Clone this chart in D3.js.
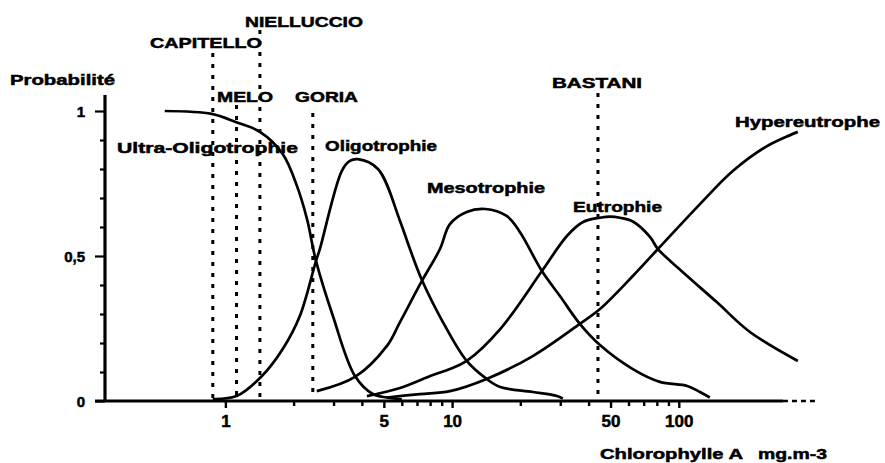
<!DOCTYPE html>
<html>
<head>
<meta charset="utf-8">
<script src="https://cdn.jsdelivr.net/npm/d3@7"></script>
<style>
  body { margin: 0; background: #fff; }
  text { font-family: "Liberation Sans", Arial, sans-serif; font-weight: bold; fill: #000; stroke: #000; stroke-width: 0.5px; }
</style>
</head>
<body>
<svg id="chart"></svg>
<script>
// Data: [chlorophylle A (mg.m-3), probabilite]
const ultraOligo = [[0.54, 1.0], [0.87, 0.99], [1.11, 0.962], [1.42, 0.928], [1.79, 0.852], [2.07, 0.741],
  [2.29, 0.628], [2.51, 0.483], [2.98, 0.293], [3.73, 0.086], [4.47, 0.024], [5.16, 0.012], [6.0, 0.006]];
const oligo = [[0.88, 0.007], [1.12, 0.017], [1.45, 0.086], [1.79, 0.179], [2.13, 0.293], [2.51, 0.483],
  [2.61, 0.524], [3.26, 0.793], [3.54, 0.828], [3.84, 0.834], [4.71, 0.8], [5.89, 0.621], [6.52, 0.524],
  [7.36, 0.417], [9.11, 0.272], [11.6, 0.138], [14.2, 0.076], [16.3, 0.048], [22.7, 0.031], [29.0, 0.017], [30.8, 0.008]];
const meso = [[2.53, 0.034], [3.73, 0.083], [5.16, 0.19], [5.89, 0.272], [7.36, 0.414], [8.84, 0.524],
  [9.78, 0.61], [11.6, 0.652], [14.0, 0.662], [17.4, 0.638], [19.9, 0.583], [24.9, 0.448], [29.9, 0.362],
  [36.6, 0.266], [44.9, 0.193], [62.7, 0.110], [82.5, 0.066], [109, 0.052], [124, 0.031], [137, 0.012]];
const eutro = [[4.21, 0.017], [5.89, 0.045], [8.23, 0.09], [9.78, 0.11], [11.6, 0.138], [16.3, 0.248],
  [24.9, 0.448], [32.1, 0.569], [37.8, 0.617], [44.9, 0.632], [50.0, 0.636], [55.0, 0.632], [62.7, 0.619],
  [74.6, 0.566], [80.9, 0.524], [104, 0.445], [147, 0.341], [206, 0.238], [335, 0.138]];
const hyper = [[5.16, 0.012], [7.21, 0.024], [9.78, 0.034], [14.2, 0.076], [22.7, 0.155], [36.6, 0.266],
  [44.9, 0.317], [62.7, 0.431], [80.9, 0.524], [124, 0.679], [173, 0.793], [245, 0.879], [335, 0.928]];

// Stations (vertical dotted lines)
const stationNames = ["CAPITELLO", "MELO", "NIELLUCCIO", "GORIA", "BASTANI"];
const stationValues = [0.88, 1.12, 1.42, 2.43, 44];

// Axis ticks
const xMinorTicks = [2, 3, 4, 6, 7, 8, 9, 20, 30, 40, 60, 70, 80, 90];
const xMajorTicks = [1, 5, 10, 50, 100];
const yMinorTicks = [0.1, 0.2, 0.3, 0.4, 0.6, 0.7, 0.8, 0.9];
const yMajorTicks = [0, 0.5, 1];
const yTickLabels = ["0", "0,5", "1"];

const width = 885;
const height = 463;

const svg = d3.select("#chart")
  .attr("width", width)
  .attr("height", height);

// Scales
const x = d3.scaleLog()
  .domain([0.266, 407])
  .range([95, 817]);

const y = d3.scaleLinear()
  .domain([0, 1])
  .range([401, 111]);

// X axis line (solid then a few dashes at the end)
svg.append("line")
  .attr("x1", x(0.266)).attr("x2", x(288))
  .attr("y1", y(0)).attr("y2", y(0))
  .attr("stroke", "#000").attr("stroke-width", 3.2);
svg.append("line")
  .attr("x1", x(288)).attr("x2", x(407))
  .attr("y1", y(0)).attr("y2", y(0))
  .attr("stroke", "#000").attr("stroke-width", 2.4)
  .attr("stroke-dasharray", "5 4");

// Y axis line
svg.append("line")
  .attr("x1", 105).attr("x2", 105)
  .attr("y1", 95).attr("y2", y(0) + 1)
  .attr("stroke", "#000").attr("stroke-width", 3.2);

// X ticks
const xMinor = svg.append("g")
  .attr("transform", `translate(0, ${y(0)})`)
  .call(d3.axisBottom(x).tickValues(xMinorTicks).tickSize(5).tickFormat(""));
const xMajor = svg.append("g")
  .attr("transform", `translate(0, ${y(0)})`)
  .call(d3.axisBottom(x).tickValues(xMajorTicks).tickSize(7).tickFormat(d3.format("d")));
[xMinor, xMajor].forEach(g => {
  g.select(".domain").remove();
  g.selectAll(".tick line").attr("stroke", "#000").attr("stroke-width", 2.4);
});
xMajor.selectAll(".tick text")
  .attr("y", 26).attr("dy", 0)
  .style("font-size", "17px")
  .style("font-family", "'Liberation Sans', Arial, sans-serif")
  .style("font-weight", "bold");

// Y ticks
const yMinor = svg.append("g")
  .attr("transform", "translate(105, 0)")
  .call(d3.axisLeft(y).tickValues(yMinorTicks).tickSize(5).tickFormat(""));
const yMajor = svg.append("g")
  .attr("transform", "translate(105, 0)")
  .call(d3.axisLeft(y).tickValues(yMajorTicks).tickSize(10).tickFormat((d, i) => yTickLabels[i]));
[yMinor, yMajor].forEach(g => {
  g.select(".domain").remove();
  g.selectAll(".tick line").attr("stroke", "#000").attr("stroke-width", 2.2);
});
yMajor.selectAll(".tick text")
  .attr("x", -20).attr("dy", "0.35em")
  .style("font-size", "15px")
  .style("font-family", "'Liberation Sans', Arial, sans-serif")
  .style("font-weight", "bold");

// Curves
const line = d3.line()
  .x(d => x(d[0]))
  .y(d => y(d[1]))
  .curve(d3.curveCatmullRom.alpha(0.5));

svg.selectAll(".curve")
  .data([ultraOligo, oligo, meso, eutro, hyper])
  .enter()
  .append("path")
  .attr("class", "curve")
  .attr("d", line)
  .attr("fill", "none")
  .attr("stroke", "#000")
  .attr("stroke-width", 2.7)
  .attr("stroke-linejoin", "round");

// Labels: [text, x, baseline, width]
const labels = [
  ["Probabilité", 10, 85, 105],
  ["NIELLUCCIO", 245, 27, 118],
  ["CAPITELLO", 150, 48, 112],
  ["MELO", 217, 102, 56],
  ["GORIA", 295, 102, 63],
  ["BASTANI", 552, 88, 90],
  ["Ultra-Oligotrophie", 117, 153, 181],
  ["Oligotrophie", 325, 151, 112],
  ["Mesotrophie", 427, 193, 118],
  ["Eutrophie", 573, 212, 89],
  ["Hypereutrophe", 735, 127, 145],
  ["Chlorophylle A", 600, 459, 143],
  ["mg.m-3", 758, 459, 69]
];

svg.selectAll(".label")
  .data(labels)
  .enter()
  .append("text")
  .attr("class", "label")
  .attr("x", d => d[1])
  .attr("y", d => d[2])
  .attr("textLength", d => d[3])
  .attr("lengthAdjust", "spacingAndGlyphs")
  .style("font-size", "15px")
  .text(d => d[0]);

// Station dotted lines
const stationTops = [53, 105, 30, 113, 93];
svg.selectAll(".station")
  .data(stationValues)
  .enter()
  .append("line")
  .attr("class", "station")
  .attr("x1", d => x(d))
  .attr("x2", d => x(d))
  .attr("y1", (d, i) => stationTops[i])
  .attr("y2", y(0) - 2)
  .attr("stroke", "#000")
  .attr("stroke-width", 3)
  .attr("stroke-dasharray", "4 7");
</script>
</body>
</html>
